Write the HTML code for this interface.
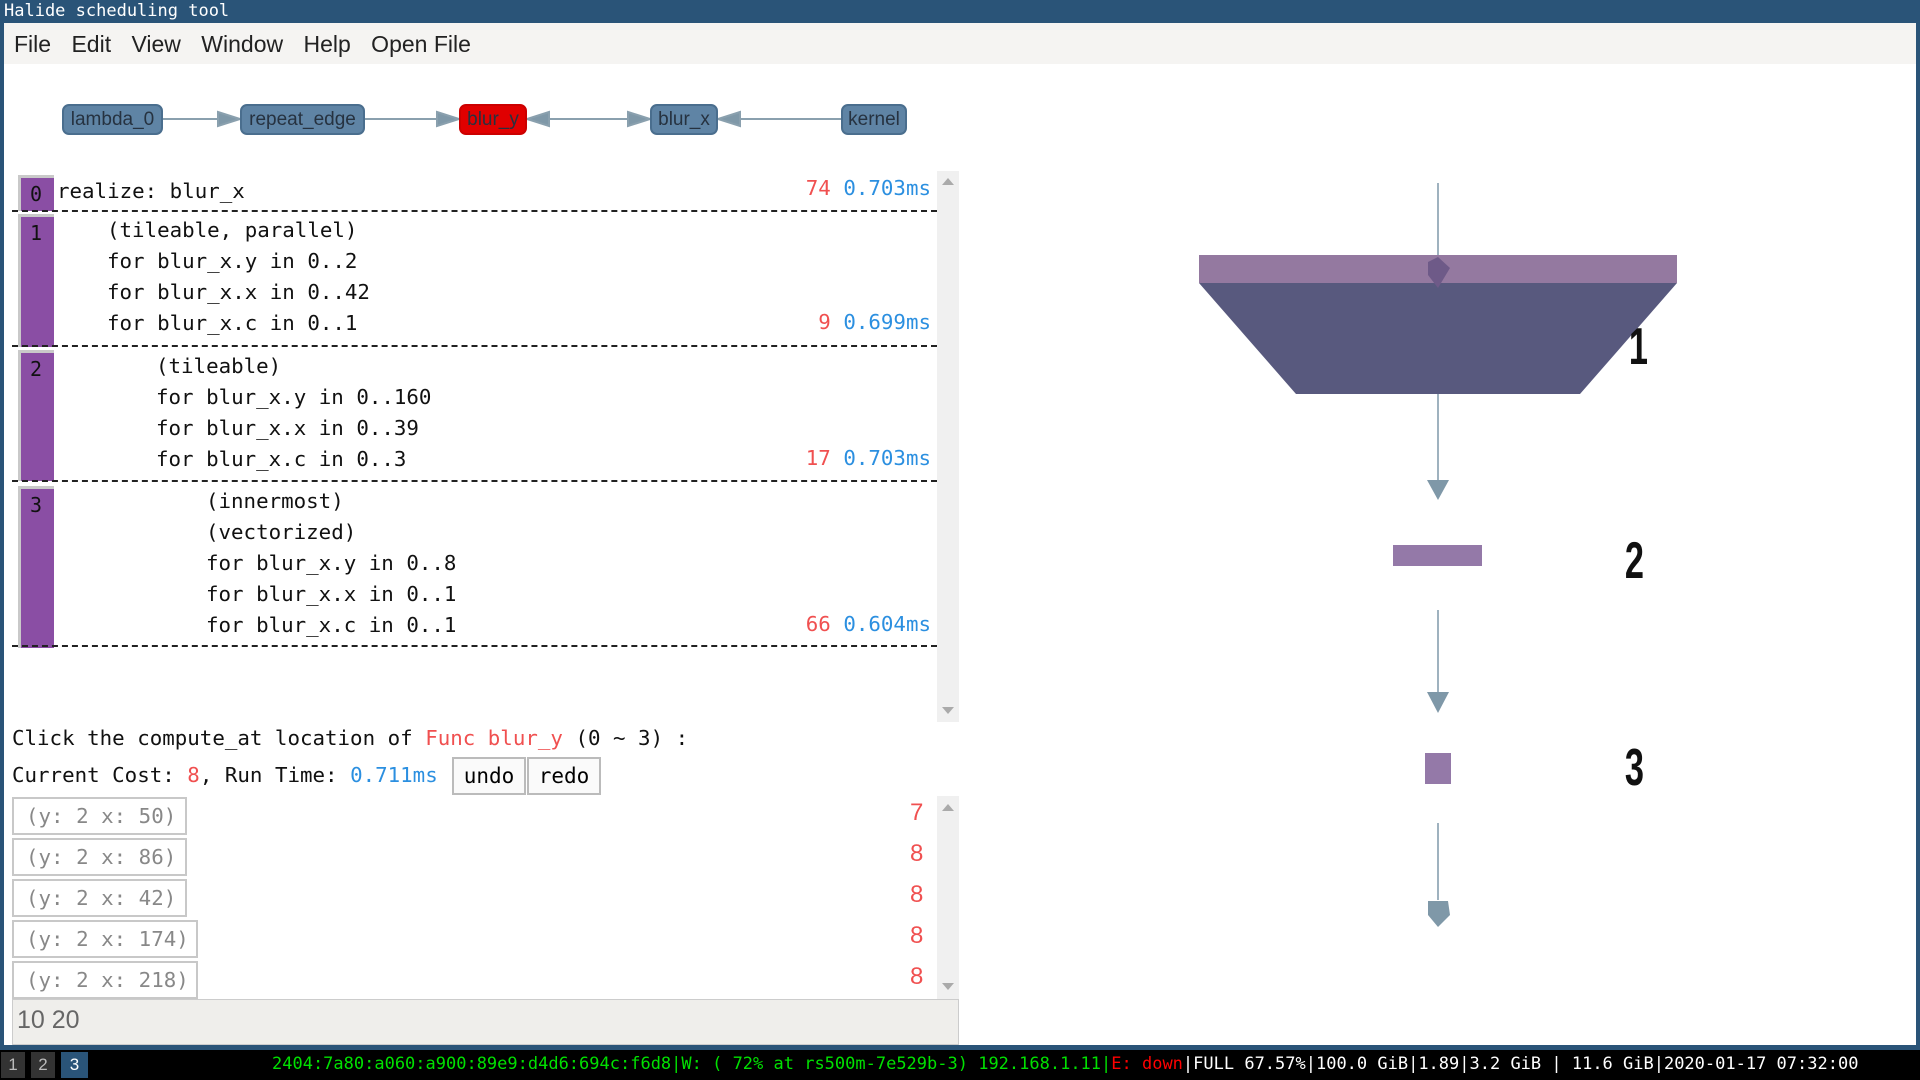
<!DOCTYPE html>
<html><head><meta charset="utf-8"><style>
*{margin:0;padding:0;box-sizing:border-box}
body{width:1920px;height:1080px;background:#fff;position:relative;overflow:hidden;font-family:"Liberation Sans","DejaVu Sans",sans-serif}
.a{position:absolute}
.mono{font-family:"DejaVu Sans Mono","Liberation Mono",monospace;font-size:20.8px;white-space:pre;color:#111}
.node{position:absolute;top:104px;height:31px;border:2px solid #4a6e8e;border-radius:7px;background:#5f84a5;color:#263240;font-size:19px;text-align:center;line-height:27px}
.dash{position:absolute;left:12px;width:925px;border-top:2px dashed #222}
.bar{position:absolute;left:18px;width:36px;background:#8a4ea4;border-left:3px solid #c9c9c9;border-top:3px solid #c9c9c9}
.bar span{position:absolute;top:4px;left:9px;font-family:"DejaVu Sans Mono",monospace;font-size:20px;color:#111}
.r{color:#f05050}.b{color:#2b8fe0}
.li{position:absolute;left:12px;height:38px;border:2px solid #c8c8c8;background:#fff;font-family:"DejaVu Sans Mono",monospace;font-size:20.8px;color:#888;line-height:34px;padding-left:12px}
.num{position:absolute;left:910px;font-size:24px;color:#f05050}
.btn{position:absolute;top:757px;height:38px;border:2px solid #bbb;background:#fafafa;font-family:"DejaVu Sans Mono",monospace;font-size:21px;line-height:34px;text-align:center}
</style></head><body>
<div class="a" style="left:0;top:0;width:1920px;height:23px;background:#2a5478"></div>
<div class="a mono" style="left:4px;top:1px;font-size:17px;color:#fff">Halide scheduling tool</div>
<div class="a" style="left:0;top:23px;width:4px;height:1030px;background:#2a5478"></div>
<div class="a" style="left:1916px;top:23px;width:4px;height:1030px;background:#2a5478"></div>
<div class="a" style="left:4px;top:23px;width:1912px;height:41px;background:#f5f4f2"></div>
<div class="a" style="left:14px;top:31px;font-size:23px;color:#222;word-spacing:14px">File Edit View Window Help Open<span style="word-spacing:0"> File</span></div>

<svg class="a" style="left:0;top:90px" width="940" height="60">
<g stroke="#8aa0ae" stroke-width="2" fill="#7f98a8">
<line x1="163" y1="29" x2="220" y2="29"/><path d="M218,22 L240,29 L218,36 Z"/>
<line x1="365" y1="29" x2="440" y2="29"/><path d="M437,22 L459,29 L437,36 Z"/>
<line x1="527" y1="29" x2="650" y2="29"/><path d="M549,22 L527,29 L549,36 Z"/><path d="M628,22 L650,29 L628,36 Z"/>
<line x1="718" y1="29" x2="841" y2="29"/><path d="M740,22 L718,29 L740,36 Z"/>
</g></svg>
<div class="node" style="left:62px;width:101px">lambda_0</div>
<div class="node" style="left:240px;width:125px">repeat_edge</div>
<div class="node" style="left:459px;width:68px;background:#e00000;border-color:#c00">blur_y</div>
<div class="node" style="left:650px;width:68px">blur_x</div>
<div class="node" style="left:841px;width:66px">kernel</div>

<div class="bar" style="top:175px;height:36px"><span>0</span></div>
<div class="bar" style="top:214px;height:133px"><span>1</span></div>
<div class="bar" style="top:350px;height:131px"><span>2</span></div>
<div class="bar" style="top:486px;height:162px"><span>3</span></div>
<div class="dash" style="top:210px"></div>
<div class="dash" style="top:345px"></div>
<div class="dash" style="top:480px"></div>
<div class="dash" style="top:645px"></div>
<div class="a mono" style="left:57px;top:176px;line-height:31px">realize: blur_x</div>
<div class="a mono" style="left:107px;top:215px;line-height:31px">(tileable, parallel)
for blur_x.y in 0..2
for blur_x.x in 0..42
for blur_x.c in 0..1</div>
<div class="a mono" style="left:156px;top:351px;line-height:31px">(tileable)
for blur_x.y in 0..160
for blur_x.x in 0..39
for blur_x.c in 0..3</div>
<div class="a mono" style="left:206px;top:486px;line-height:31px">(innermost)
(vectorized)
for blur_x.y in 0..8
for blur_x.x in 0..1
for blur_x.c in 0..1</div>
<div class="a mono" style="right:989px;top:176px"><span class="r">74</span> <span class="b">0.703ms</span></div>
<div class="a mono" style="right:989px;top:310px"><span class="r">9</span> <span class="b">0.699ms</span></div>
<div class="a mono" style="right:989px;top:446px"><span class="r">17</span> <span class="b">0.703ms</span></div>
<div class="a mono" style="right:989px;top:612px"><span class="r">66</span> <span class="b">0.604ms</span></div>
<div class="a" style="left:937px;top:171px;width:22px;height:551px;background:#f0f0f0"></div>
<div class="a" style="left:942px;top:178px;border:6px solid transparent;border-bottom:7px solid #aaa;border-top:0"></div>
<div class="a" style="left:942px;top:707px;border:6px solid transparent;border-top:7px solid #aaa;border-bottom:0"></div>

<div class="a mono" style="left:12px;top:726px">Click the compute_at location of <span class="r">Func blur_y</span> (0 ~ 3) :</div>
<div class="a mono" style="left:12px;top:763px">Current Cost: <span class="r">8</span>, Run Time: <span class="b">0.711ms</span></div>
<div class="btn" style="left:452px;width:74px">undo</div>
<div class="btn" style="left:527px;width:74px">redo</div>

<div class="li" style="top:797px;width:175px">(y: 2 x: 50)</div>
<div class="li" style="top:838px;width:175px">(y: 2 x: 86)</div>
<div class="li" style="top:879px;width:175px">(y: 2 x: 42)</div>
<div class="li" style="top:920px;width:186px">(y: 2 x: 174)</div>
<div class="li" style="top:961px;width:186px">(y: 2 x: 218)</div>
<div class="num" style="top:799px">7</div>
<div class="num" style="top:840px">8</div>
<div class="num" style="top:881px">8</div>
<div class="num" style="top:922px">8</div>
<div class="num" style="top:963px">8</div>
<div class="a" style="left:937px;top:796px;width:22px;height:203px;background:#f0f0f0"></div>
<div class="a" style="left:942px;top:804px;border:6px solid transparent;border-bottom:7px solid #aaa;border-top:0"></div>
<div class="a" style="left:942px;top:983px;border:6px solid transparent;border-top:7px solid #aaa;border-bottom:0"></div>
<div class="a" style="left:12px;top:999px;width:947px;height:46px;background:#efeeeb;border:1px solid #ccc;font-size:25px;color:#666;padding:6px 4px">10 20</div>

<svg class="a" style="left:0;top:0" width="1920" height="1080">
<g stroke="#9fb2bf" stroke-width="2">
<line x1="1438" y1="183" x2="1438" y2="290"/>
<line x1="1438" y1="394" x2="1438" y2="490"/>
<line x1="1438" y1="610" x2="1438" y2="692"/>
<line x1="1438" y1="823" x2="1438" y2="900"/>
</g>
<rect x="1199" y="255" width="478" height="28" fill="#9479a0"/>
<path d="M1199,283 L1677,283 L1580,394 L1296,394 Z" fill="#58597e"/>
<path d="M1428,262 L1438,257 L1450,268 L1438,288 L1428,275 Z" fill="#6e5a88"/>
<path d="M1427,480 L1449,480 L1438,500 Z" fill="#7f98a8"/>
<rect x="1393" y="545" width="89" height="21" fill="#9479a8"/>
<path d="M1427,692 L1449,692 L1438,713 Z" fill="#7f98a8"/>
<rect x="1425" y="753" width="26" height="31" fill="#9479a8"/>
<path d="M1428,901 L1448,901 L1450,915 L1438,927 L1428,915 Z" fill="#7f98a8"/>
<g font-family="Liberation Sans,sans-serif" font-weight="bold" font-size="52" fill="#111" transform="scale(0.66,1)">
<text x="2468" y="364">1</text><text x="2462" y="578">2</text><text x="2462" y="785">3</text>
</g>
</svg>

<div class="a" style="left:0;top:1045px;width:1920px;height:5px;background:#2a5478"></div>
<div class="a" style="left:0;top:1050px;width:1920px;height:30px;background:#000"></div>
<div class="a" style="left:1px;top:1052px;width:24px;height:26px;background:#333;color:#bbb;font-size:17px;text-align:center;line-height:26px">1</div>
<div class="a" style="left:31px;top:1052px;width:24px;height:26px;background:#333;color:#bbb;font-size:17px;text-align:center;line-height:26px">2</div>
<div class="a" style="left:61px;top:1052px;width:27px;height:26px;background:#2a5478;color:#fff;font-size:17px;text-align:center;line-height:26px">3</div>
<div class="a mono" style="left:272px;top:1054px;font-size:17px;color:#00e000">2404:7a80:a060:a900:89e9:d4d6:694c:f6d8|W: ( 72% at rs500m-7e529b-3) 192.168.1.11|<span style="color:#f00">E: down</span><span style="color:#fff">|FULL 67.57%|100.0 GiB|1.89|3.2 GiB | 11.6 GiB|2020-01-17 07:32:00</span></div>
</body></html>
